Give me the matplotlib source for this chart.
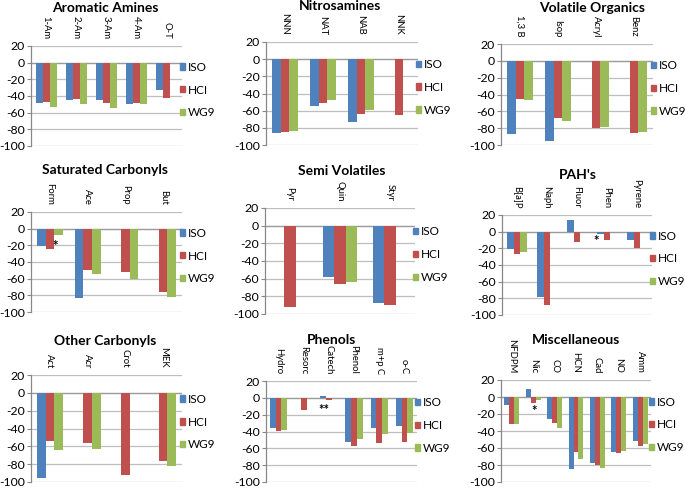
import numpy as np
import matplotlib
matplotlib.use("Agg")
import matplotlib.pyplot as plt
from matplotlib.patches import Patch

nan = np.nan
plt.rcParams['font.family'] = ['Lato', 'DejaVu Sans']
plt.rcParams['axes.unicode_minus'] = False

series = ["ISO", "HCI", "WG9"]
colors = ["#4F81BD", "#C0504D", "#9BBB59"]

# Aromatic Amines
aa_title = "Aromatic Amines"
aa_cats = ["1-Am", "2-Am", "3-Am", "4-Am", "O-T"]
aa_iso = [-49, -45, -45, -50, -33]
aa_hci = [-47, -44, -48, -48, -42]
aa_wg9 = [-53, -50, -55, -50, nan]

# Nitrosamines
ni_title = "Nitrosamines"
ni_cats = ["NNN", "NAT", "NAB", "NNK"]
ni_iso = [-86, -55, -73, nan]
ni_hci = [-85, -51, -64, -65]
ni_wg9 = [-84, -48, -59, nan]

# Volatile Organics
vo_title = "Volatile Organics"
vo_cats = ["1,3 B", "Isop", "Acryl", "Benz"]
vo_iso = [-87, -95, nan, nan]
vo_hci = [-45, -68, -80, -86]
vo_wg9 = [-47, -71, -79, -85]

# Saturated Carbonyls
sc_title = "Saturated Carbonyls"
sc_cats = ["Form", "Ace", "Prop", "But"]
sc_iso = [-21, -83, nan, nan]
sc_hci = [-24, -49, -52, -76]
sc_wg9 = [-8, -54, -60, -82]

# Semi Volatiles
sv_title = "Semi Volatiles"
sv_cats = ["Pyr", "Quin", "Styr"]
sv_iso = [nan, -58, -88]
sv_hci = [-92, -66, -90]
sv_wg9 = [nan, -64, nan]

# PAH's
pa_title = "PAH's"
pa_cats = ["B[a]P", "Naph", "Fluor", "Phen", "Pyrene"]
pa_iso = [-21, -79, 14, -2.5, -10]
pa_hci = [-27, -88, -12, -10, -20]
pa_wg9 = [-24, nan, nan, nan, nan]

# Other Carbonyls
oc_title = "Other Carbonyls"
oc_cats = ["Act", "Acr", "Crot", "MEK"]
oc_iso = [-95, nan, nan, nan]
oc_hci = [-54, -56, -92, -76]
oc_wg9 = [-64, -63, nan, -82]

# Phenols
ph_title = "Phenols"
ph_cats = ["Hydro", "Resorc", "Catech", "Phenol", "m+p C", "o-C"]
ph_iso = [-36, nan, 2.5, -52, -36, -34]
ph_hci = [-39, -14, -3, -57, -54, -52]
ph_wg9 = [-38, nan, nan, -49, -43, -42]

# Miscellaneous
mi_title = "Miscellaneous"
mi_cats = ["NFDPM", "Nic", "CO", "HCN", "Cad", "NO", "Amm"]
mi_iso = [-9.5, 10, -26, -85, -78, -65, -52]
mi_hci = [-32, -7, -31, -65, -80, -66, -58]
mi_wg9 = [-32, -4, -37, -73, -83, -63, -55]

W, H = 685, 488
fig = plt.figure(figsize=(W / 100, H / 100), dpi=100)

# panel: (title, cats, data, axes px box (left, top, right, bottom), title px pos, asterisks)
panels = [
    (aa_title, aa_cats, (aa_iso, aa_hci, aa_wg9), (31, 46, 182, 146), (105, 8), []),
    (ni_title, ni_cats, (ni_iso, ni_hci, ni_wg9), (266, 42, 418, 145), (340, 6), []),
    (vo_title, vo_cats, (vo_iso, vo_hci, vo_wg9), (501, 44, 653, 145), (592, 8), []),
    (sc_title, sc_cats, (sc_iso, sc_hci, sc_wg9), (31, 212, 182, 312), (105, 170), [(0.13, -21, "*")]),
    (sv_title, sv_cats, (sv_iso, sv_hci, sv_wg9), (265, 208, 415, 314), (342, 171), []),
    (pa_title, pa_cats, (pa_iso, pa_hci, pa_wg9), (502, 215, 652, 315), (578, 175), [(2.65, -11, "*")]),
    (oc_title, oc_cats, (oc_iso, oc_hci, oc_wg9), (31, 375, 182, 482), (105, 341), []),
    (ph_title, ph_cats, (ph_iso, ph_hci, ph_wg9), (266, 381, 417, 482), (332, 340), [(1.8, -14, "**")]),
    (mi_title, mi_cats, (mi_iso, mi_hci, mi_wg9), (501, 380, 651, 482), (576, 340), [(1.05, -16, "*")]),
]

bw = 0.23
grid_c = "#BEBEBE"
for title, cats, data, box, tpos, stars in panels:
    l, t, r, b = box
    ax = fig.add_axes([l / W, 1 - b / H, (r - l) / W, (b - t) / H])
    x = np.arange(len(cats))
    for i, (vals, c) in enumerate(zip(data, colors)):
        ax.bar(x + (i - 1) * bw, vals, width=bw, color=c, zorder=3, label=series[i])
    ax.set_xlim(-0.5, len(cats) - 0.5)
    ax.set_ylim(-100, 20)
    ax.set_yticks(np.arange(-100, 21, 20))
    ax.yaxis.grid(True, color=grid_c, linewidth=0.9, zorder=0)
    ax.set_axisbelow(True)
    for s in ["top", "right", "bottom"]:
        ax.spines[s].set_visible(False)
    ax.spines["left"].set_color("#888888")
    ax.spines["left"].set_linewidth(0.9)
    ax.axhline(0, color="#9A9A9A", linewidth=0.9, zorder=2)
    ax.xaxis.tick_top()
    ax.set_xticks(x)
    ax.set_xticklabels(cats, rotation=-90, fontsize=6.8)
    ax.tick_params(axis="x", length=0, pad=5)
    ax.tick_params(axis="y", length=3, width=0.8, color="#888888", labelsize=8.8, pad=1.5)
    ax.set_facecolor("none")
    handles = [Patch(color=c) for c in colors]
    ax.legend(handles, series, loc="center left", bbox_to_anchor=(0.985, 0.56),
              frameon=False, fontsize=8.5, handlelength=0.45, handleheight=0.45,
              handletextpad=0.22, labelspacing=1.0, borderpad=0, borderaxespad=0)
    for sx, sy, st in stars:
        ax.text(sx, sy, st, ha="center", va="center", fontsize=9.5, fontweight="bold")
    fig.text(tpos[0] / W, 1 - tpos[1] / H, title, ha="center", va="center",
             fontsize=10, fontweight="bold")

fig.savefig("out.png", dpi=100)
